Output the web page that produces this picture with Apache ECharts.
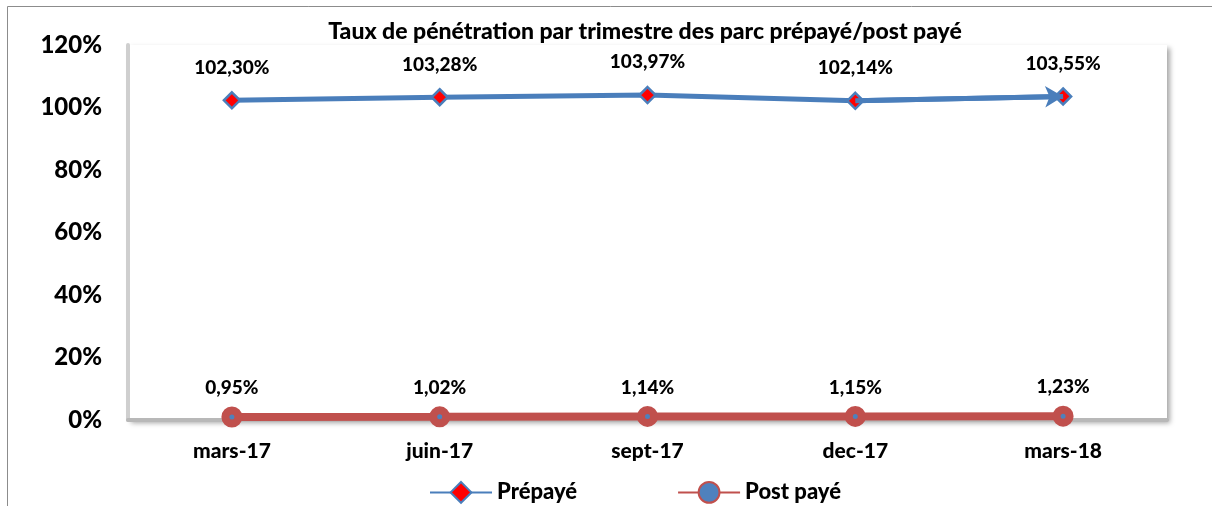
<!DOCTYPE html>
<html>
<head>
<meta charset="utf-8">
<script src="https://cdn.jsdelivr.net/npm/echarts@6/dist/echarts.min.js"></script>
<style>
  html, body { margin: 0; padding: 0; background: #fff; }
  #chart { width: 1212px; height: 506px; }
</style>
</head>
<body>
<div id="chart"></div>
<script>
const categories = ['mars-17', 'juin-17', 'sept-17', 'dec-17', 'mars-18'];
const prepaye = [102.30, 103.28, 103.97, 102.14, 103.55];
const postPaye = [0.95, 1.02, 1.14, 1.15, 1.23];
const yTicks = { min: 0, max: 120, interval: 20 };

const font = 'Lato, "Open Sans", sans-serif';
const fmt = v => v.toFixed(2).replace('.', ',') + '%';

const chart = echarts.init(document.getElementById('chart'));
const option = {
    animation: false,
    textStyle: { fontFamily: font },
    title: {
        text: 'Taux de pénétration par trimestre des parc prépayé/post payé',
        left: 640, top: 15, textAlign: 'center',
        textStyle: { fontSize: 23, fontWeight: 900, color: '#000', fontFamily: font }
    },
    graphic: [{
        type: 'rect', silent: true, z: -10,
        shape: { x: 7.5, y: 6.5, width: 1220, height: 520 },
        style: { fill: 'none', stroke: '#8c8c8c', lineWidth: 1 }
    }],
    legend: {
        left: 424, top: 476,
        itemWidth: 62, itemHeight: 26, itemGap: 100,
        textStyle: { fontSize: 22, fontWeight: 900, color: '#000', fontFamily: font },
        data: ['Prépayé', 'Post payé']
    },
    grid: {
        left: 128, right: 45, top: 45, bottom: 86,
        show: true, backgroundColor: '#fff', borderWidth: 0,
        shadowColor: 'rgba(0,0,0,0.35)', shadowBlur: 5, shadowOffsetX: 3, shadowOffsetY: 3
    },
    xAxis: {
        type: 'category', data: categories, boundaryGap: true,
        axisLine: { lineStyle: { color: '#b8b8b8', width: 4 } },
        axisTick: { show: false },
        axisLabel: { fontSize: 21, fontWeight: 900, color: '#000', margin: 21, fontFamily: font }
    },
    yAxis: {
        type: 'value', min: yTicks.min, max: yTicks.max, interval: yTicks.interval,
        axisLine: { show: true, lineStyle: { color: '#cfcfcf', width: 4 } },
        axisTick: { show: false },
        splitLine: { show: false },
        axisLabel: { formatter: '{value}%', fontSize: 24, fontWeight: 900, color: '#000', margin: 26, fontFamily: font }
    },
    series: [
        {
            name: 'Prépayé', type: 'line', data: prepaye,
            symbol: 'diamond', symbolSize: 16,
            lineStyle: { color: '#4a7ebb', width: 5 },
            itemStyle: { color: '#ff0000', borderColor: '#4a7ebb', borderWidth: 2.5 },
            label: {
                show: true, position: 'top', distance: 14,
                formatter: p => fmt(p.value),
                fontSize: 19, fontWeight: 900, color: '#000', fontFamily: font
            },
            markLine: {
                silent: true, symbol: ['none', 'arrow'], symbolSize: [16, 18],
                lineStyle: { color: '#4a7ebb', width: 5, type: 'solid' },
                label: { show: false },
                data: [[
                    { coord: [categories[3], prepaye[3]] },
                    { coord: [categories[4], prepaye[4]] }
                ]]
            },
            z: 3
        },
        {
            name: 'Post payé', type: 'line', data: postPaye,
            symbol: 'circle', symbolSize: 13,
            lineStyle: { color: '#c0504d', width: 8 },
            itemStyle: { color: '#4f81bd', borderColor: '#c0504d', borderWidth: 8 },
            label: {
                show: true, position: 'top', distance: 9,
                formatter: p => fmt(p.value),
                fontSize: 19, fontWeight: 900, color: '#000', fontFamily: font
            },
            z: 4
        }
    ]
};
chart.setOption(option);
</script>
</body>
</html>
